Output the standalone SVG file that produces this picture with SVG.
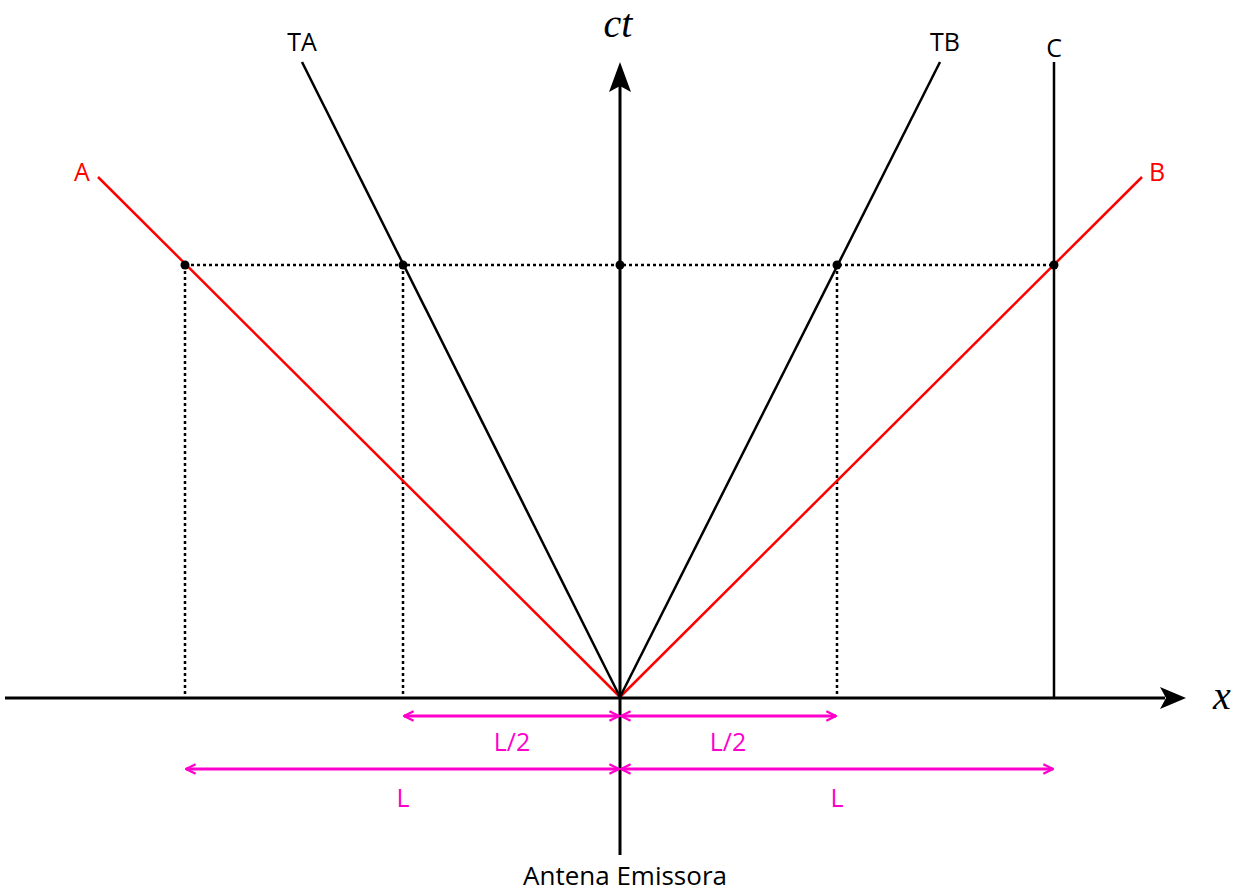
<svg xmlns="http://www.w3.org/2000/svg" width="1243" height="894" viewBox="0 0 1243 894">
<style>
.lbl{font-family:"Open Sans","Liberation Sans",sans-serif;font-size:25px;text-anchor:middle}
.mag{fill:#ff00cc}
.math{font-family:"Liberation Serif",serif;font-style:italic;font-size:40px;text-anchor:middle}
.dot{stroke:#000;stroke-width:2.5;stroke-dasharray:3,3;fill:none}
.wl{stroke:#000;stroke-width:2.5;fill:none}
.red{stroke:#ff0000;stroke-width:2.5;fill:none}
.mline{stroke:#ff00cc;stroke-width:3;fill:none;marker-start:url(#ma);marker-end:url(#ma)}
</style>
<defs>
<marker id="ma" viewBox="0 0 10 10" refX="9" refY="5" markerWidth="4" markerHeight="4" orient="auto-start-reverse" markerUnits="strokeWidth">
<path d="M1,1 L9,5 L1,9" fill="none" stroke="#ff00cc" stroke-width="2"/>
</marker>
</defs>
<rect width="1243" height="894" fill="#fff"/>
<g id="connectors">
<line class="dot" x1="185" y1="265" x2="1054" y2="265"/>
<line class="dot" x1="185" y1="265" x2="185" y2="697"/>
<line class="dot" x1="403" y1="265" x2="403" y2="697"/>
<line class="dot" x1="837" y1="265" x2="837" y2="697"/>
<line class="red" x1="620" y1="697" x2="98" y2="177"/>
<line class="red" x1="620" y1="697" x2="1142" y2="177"/>
<line class="wl" x1="620" y1="697" x2="302" y2="62"/>
<line class="wl" x1="620" y1="697" x2="940" y2="62"/>
<line class="wl" x1="1054" y1="697" x2="1054" y2="62"/>
</g>
<g id="axes">
<line x1="5" y1="698" x2="1165" y2="698" stroke="#000" stroke-width="3"/>
<path d="M1186,698 L1160,687 L1166,698 L1160,709 Z" fill="#000"/>
<line x1="620" y1="855" x2="620" y2="85" stroke="#000" stroke-width="3"/>
<path d="M620,62 L609,92 L620,86 L631,92 Z" fill="#000"/>
<text class="math" x="618" y="37">ct</text>
<text class="math" x="1222" y="709">x</text>
</g>
<g id="points">
<circle cx="185" cy="265" r="4.5"/>
<circle cx="403" cy="265" r="4.5"/>
<circle cx="620" cy="265" r="4.5"/>
<circle cx="837" cy="265" r="4.5"/>
<circle cx="1054" cy="265" r="4.5"/>
</g>
<g id="labels">
<text class="lbl" x="302" y="51">TA</text>
<text class="lbl" x="945" y="51">TB</text>
<text class="lbl" x="1054" y="57">C</text>
<text class="lbl" x="82" y="181" fill="#ff0000">A</text>
<text class="lbl" x="1157" y="181" fill="#ff0000">B</text>
<text class="lbl" x="625" y="885" style="font-size:26px">Antena Emissora</text>
</g>
<g id="dimensions">
<line class="mline" x1="404" y1="716" x2="619" y2="716"/>
<line class="mline" x1="621" y1="716" x2="836" y2="716"/>
<line class="mline" x1="186" y1="769" x2="619" y2="769"/>
<line class="mline" x1="621" y1="769" x2="1053" y2="769"/>
<text class="lbl mag" x="512" y="751">L/2</text>
<text class="lbl mag" x="728" y="751">L/2</text>
<text class="lbl mag" x="403" y="807">L</text>
<text class="lbl mag" x="837" y="807">L</text>
</g>
</svg>
